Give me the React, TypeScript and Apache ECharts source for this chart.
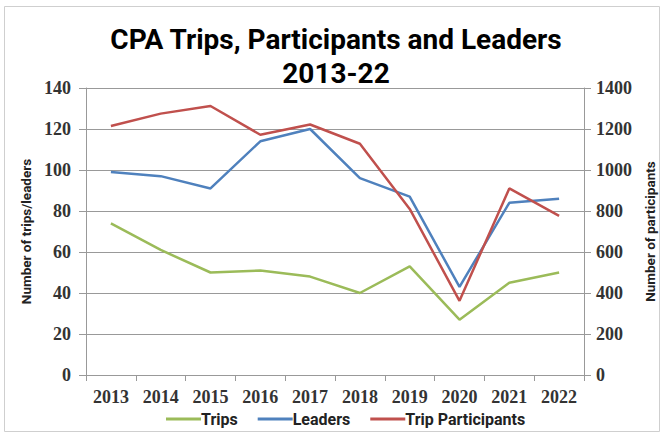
import React, { useEffect, useRef } from "react";
import * as echarts from "echarts";

const years = ["2013", "2014", "2015", "2016", "2017", "2018", "2019", "2020", "2021", "2022"];
const trips = [74, 61, 50, 51, 48, 40, 53, 27, 45, 50];
const leaders = [99, 97, 91, 114, 120, 96, 87, 43, 84, 86];
const participants = [1215, 1275, 1312, 1172, 1222, 1128, 810, 362, 910, 776];
const titleLines = ["CPA Trips, Participants and Leaders", "2013-22"];

const sans = "Roboto, sans-serif";
const serif = "'Liberation Serif', serif";

export default function App() {
  const ref = useRef<HTMLDivElement>(null);
  useEffect(() => {
    const chart = echarts.init(ref.current!, null, { renderer: "svg" });
    const axisLabel = { fontFamily: serif, fontWeight: "bold", fontSize: 18, color: "#333" };
    chart.setOption({
      animation: false,
      backgroundColor: "#fff",
      graphic: [
        {
          type: "rect",
          shape: { x: 4.5, y: 6.5, width: 655, height: 425 },
          style: { fill: "none", stroke: "#cfcfcf", lineWidth: 1 },
        },
        {
          type: "text",
          x: 336,
          y: 39,
          style: {
            text: titleLines[0],
            align: "center",
            verticalAlign: "middle",
            font: "bold 28px Roboto, sans-serif",
            fill: "#000",
          },
        },
        {
          type: "text",
          x: 336,
          y: 73,
          style: {
            text: titleLines[1],
            align: "center",
            verticalAlign: "middle",
            font: "bold 28px Roboto, sans-serif",
            fill: "#000",
          },
        },
      ],
      legend: {
        top: 406,
        left: 161,
        itemWidth: 35,
        itemHeight: 3,
        itemGap: 20,
        icon: "rect",
        textStyle: { fontFamily: sans, fontWeight: "bold", fontSize: 16, color: "#222", padding: [0, 0, 0, -5] },
        data: ["Trips", "Leaders", "Trip Participants"],
      },
      grid: { left: 86, right: 60, top: 88, bottom: 62 },
      xAxis: {
        type: "category",
        data: years,
        boundaryGap: true,
        axisLine: { lineStyle: { color: "#999" } },
        axisTick: { show: true, length: 6, lineStyle: { color: "#999" } },
        axisLabel: { ...axisLabel, margin: 13 },
      },
      yAxis: [
        {
          type: "value",
          min: 0,
          max: 140,
          interval: 20,
          name: "Number of trips/leaders",
          nameLocation: "middle",
          nameGap: 52,
          nameTextStyle: { fontFamily: sans, fontWeight: "bold", fontSize: 13.5, color: "#222" },
          axisLine: { show: true, lineStyle: { color: "#999" } },
          axisTick: { show: true, length: 7, lineStyle: { color: "#999" } },
          axisLabel: { ...axisLabel, margin: 15 },
          splitLine: { lineStyle: { color: "#999" } },
        },
        {
          type: "value",
          min: 0,
          max: 1400,
          interval: 200,
          name: "Number of participants",
          nameLocation: "middle",
          nameGap: 59,
          nameRotate: 90,
          nameTextStyle: { fontFamily: sans, fontWeight: "bold", fontSize: 13.5, color: "#222" },
          axisLine: { show: true, lineStyle: { color: "#999" } },
          axisTick: { show: true, length: 7, lineStyle: { color: "#999" } },
          axisLabel: { ...axisLabel, margin: 12, formatter: (v: number) => String(v) },
          splitLine: { show: false },
        },
      ],
      series: [
        {
          name: "Trips",
          type: "line",
          data: trips,
          yAxisIndex: 0,
          symbol: "none",
          color: "#9BBB59",
          lineStyle: { width: 2.5, color: "#9BBB59" },
        },
        {
          name: "Leaders",
          type: "line",
          data: leaders,
          yAxisIndex: 0,
          symbol: "none",
          color: "#4F81BD",
          lineStyle: { width: 2.5, color: "#4F81BD" },
        },
        {
          name: "Trip Participants",
          type: "line",
          data: participants,
          yAxisIndex: 1,
          symbol: "none",
          color: "#C0504D",
          lineStyle: { width: 2.5, color: "#C0504D" },
        },
      ],
    });
    return () => chart.dispose();
  }, []);
  return (
    <div
      ref={ref}
      style={{ position: "absolute", left: 0, top: 0, width: 665, height: 437 }}
    />
  );
}
